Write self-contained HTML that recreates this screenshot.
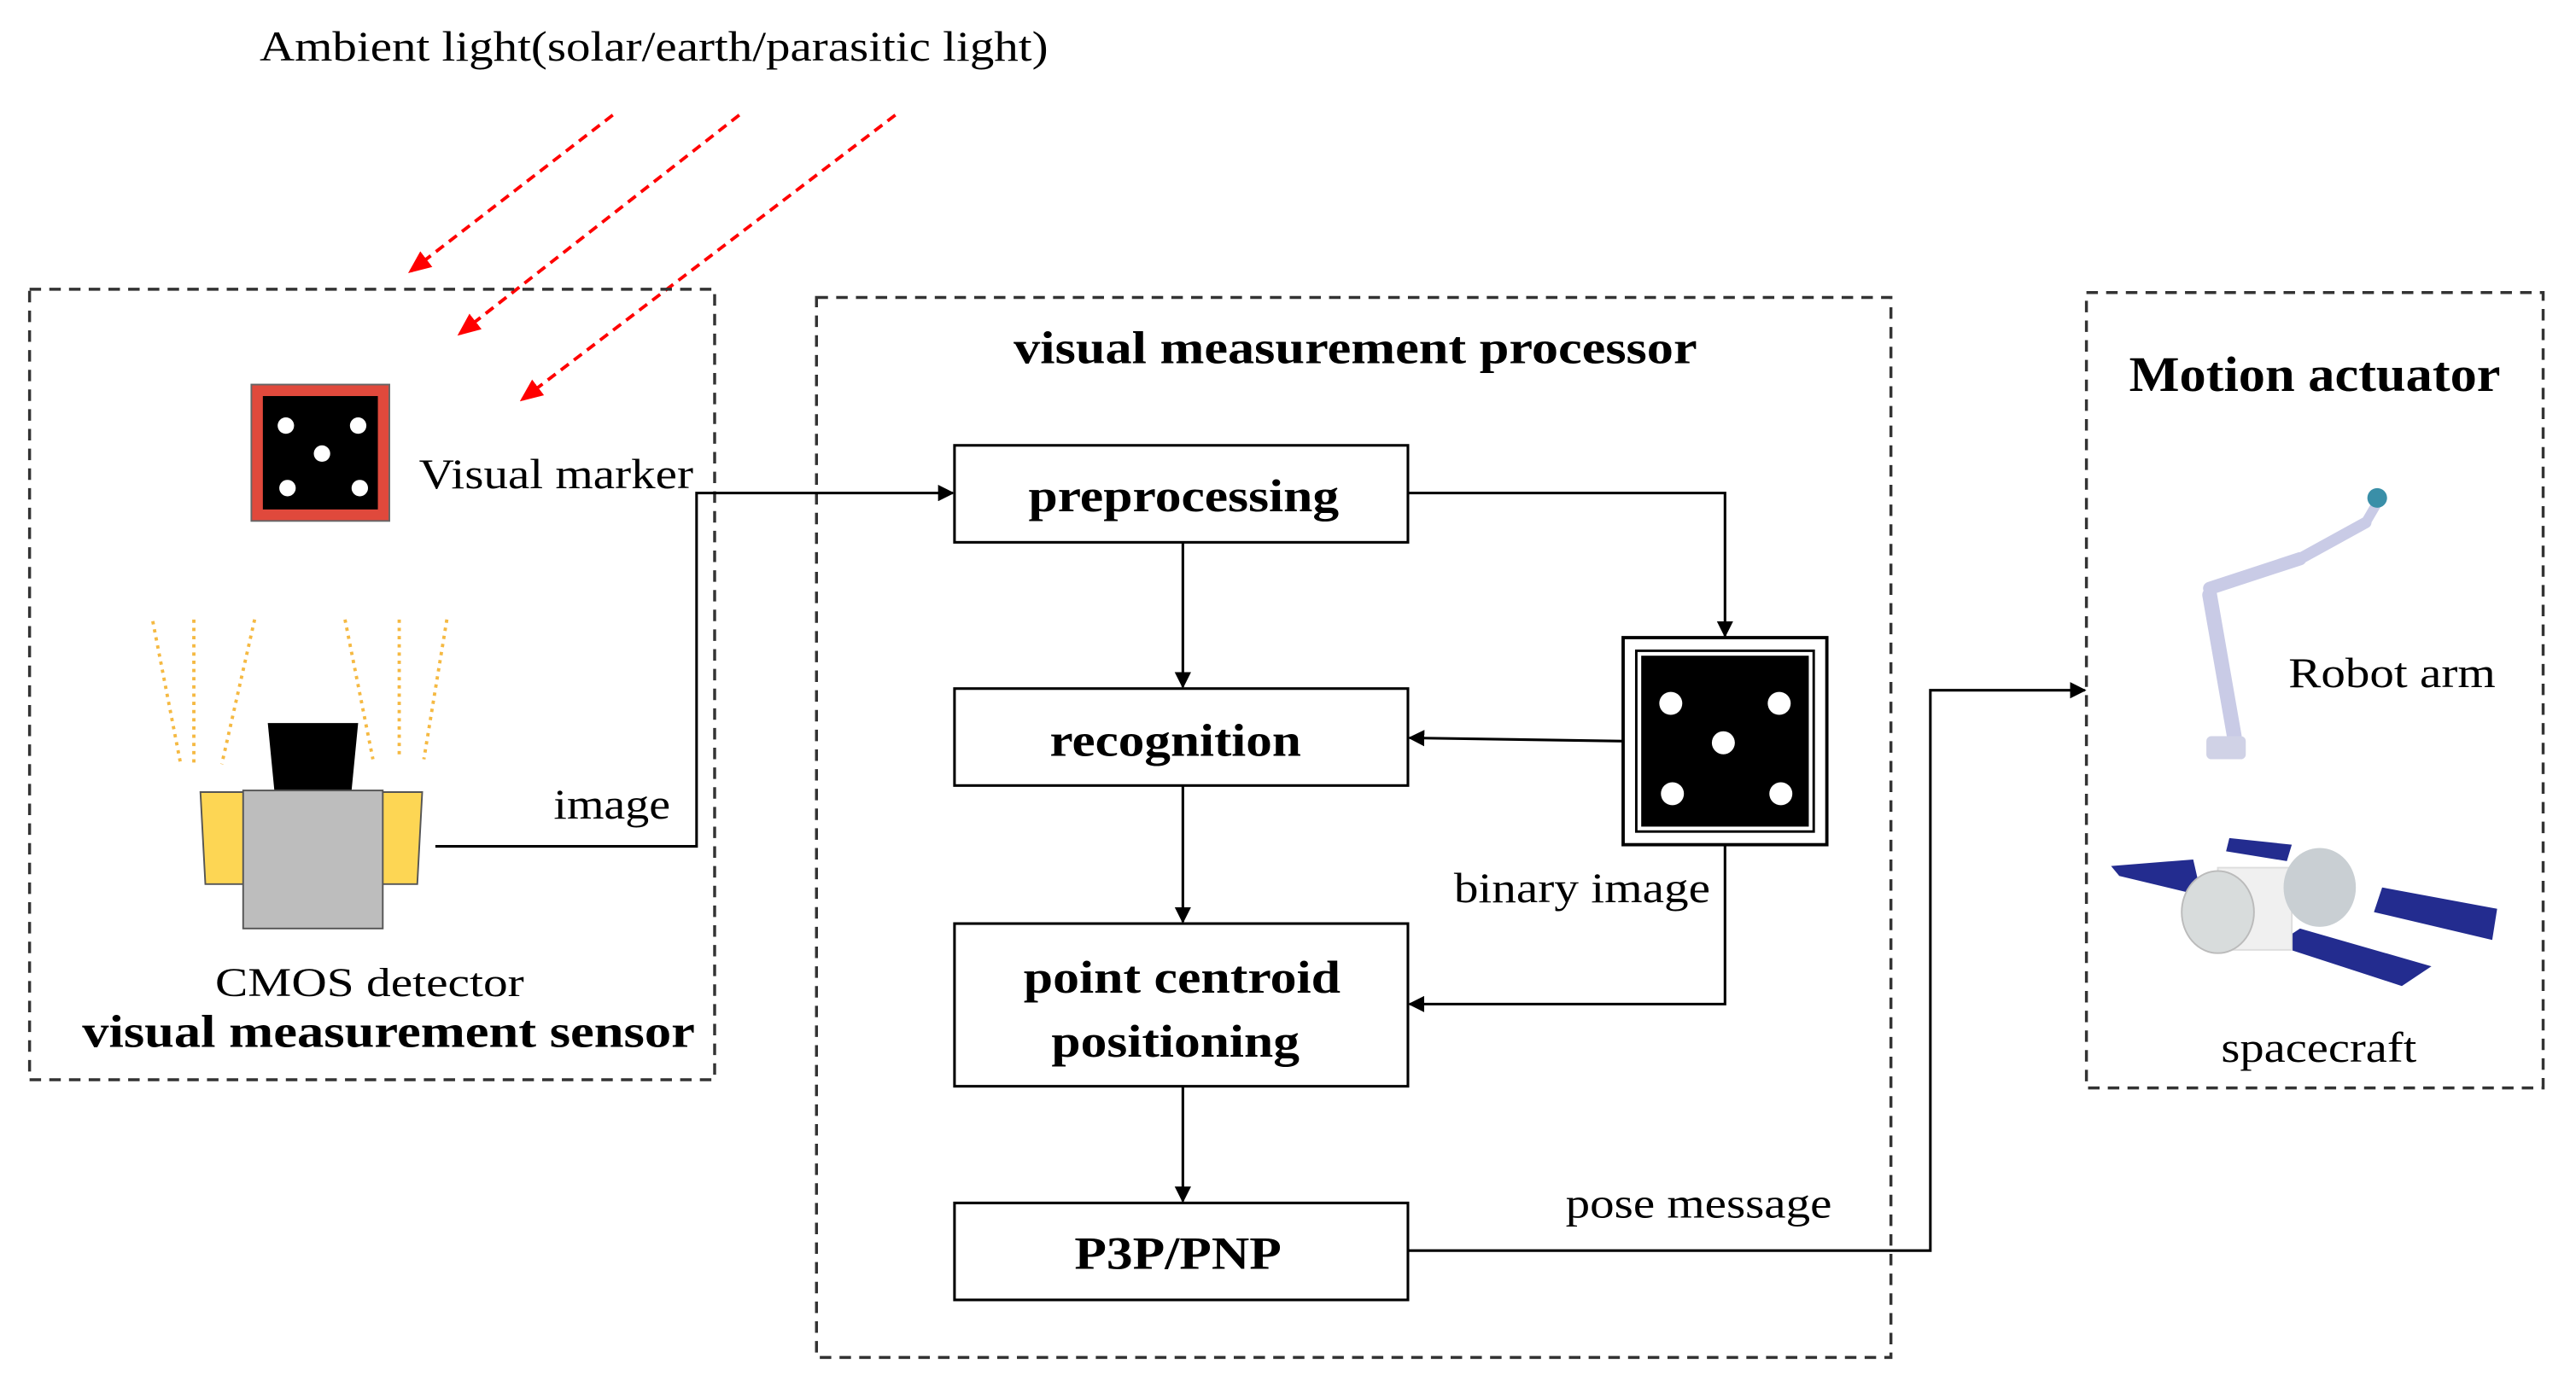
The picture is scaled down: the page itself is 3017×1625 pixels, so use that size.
<!DOCTYPE html>
<html><head><meta charset="utf-8"><style>html,body{margin:0;padding:0;background:#fff}svg{display:block}</style></head><body>
<svg width="3017" height="1625" viewBox="0 0 1568 844" preserveAspectRatio="none" xmlns="http://www.w3.org/2000/svg" font-family="'Liberation Serif', serif">
<defs>
<marker id="ab" markerWidth="10" markerHeight="10" refX="9" refY="5" orient="auto" markerUnits="userSpaceOnUse"><path d="M0,0 L10,5 L0,10 z" fill="#000"/></marker>
<marker id="ar" markerWidth="14" markerHeight="12" refX="12" refY="6" orient="auto" markerUnits="userSpaceOnUse"><path d="M0,0 L14,6 L0,12 z" fill="#f00"/></marker>
</defs>
<text x="158" y="37" font-size="26" textLength="480" lengthAdjust="spacingAndGlyphs">Ambient light(solar/earth/parasitic light)</text>
<g stroke="#f00" stroke-width="2" stroke-dasharray="6,4" marker-end="url(#ar)">
<line x1="373" y1="70" x2="250" y2="165"/><line x1="450" y1="70" x2="280" y2="203"/><line x1="545" y1="70" x2="318" y2="243"/>
</g>
<g fill="none" stroke="#333" stroke-width="1.8" stroke-dasharray="7,5">
<rect x="18" y="176" width="417" height="481"/><rect x="497" y="181" width="654" height="645"/><rect x="1270" y="178" width="278" height="484"/>
</g>
<rect x="153" y="234" width="84" height="83" fill="#e0493c" stroke="#666"/>
<rect x="160" y="241" width="70" height="69" fill="#000"/>
<g fill="#fff"><circle cx="174" cy="259" r="5"/><circle cx="218" cy="259" r="5"/><circle cx="196" cy="276" r="5"/><circle cx="175" cy="297" r="5"/><circle cx="219" cy="297" r="5"/></g>
<text x="255" y="297" font-size="26" textLength="167" lengthAdjust="spacingAndGlyphs">Visual marker</text>
<g stroke="#f5b942" stroke-width="2" stroke-dasharray="2,3" fill="none">
<line x1="93" y1="378" x2="110" y2="465"/><line x1="118" y1="377" x2="118" y2="465"/><line x1="155" y1="377" x2="135" y2="465"/>
<line x1="210" y1="377" x2="227" y2="462"/><line x1="243" y1="377" x2="243" y2="462"/><line x1="272" y1="377" x2="258" y2="462"/>
</g>
<path d="M163,440 L218,440 L214,481 L167,481 z" fill="#000"/>
<path d="M122,482 L150,482 L150,538 L125,538 z" fill="#fdd654" stroke="#555"/>
<path d="M232,482 L257,482 L254,538 L232,538 z" fill="#fdd654" stroke="#555"/>
<rect x="148" y="481" width="85" height="84" fill="#bdbdbd" stroke="#555"/>
<text x="131" y="606" font-size="25" textLength="188" lengthAdjust="spacingAndGlyphs">CMOS detector</text>
<text x="50" y="637" font-size="28" font-weight="bold" textLength="373" lengthAdjust="spacingAndGlyphs">visual measurement sensor</text>
<text x="337" y="498" font-size="26" textLength="71" lengthAdjust="spacingAndGlyphs">image</text>
<g stroke="#000" stroke-width="1.6" fill="none">
<polyline points="265,515 424,515 424,300 580,300" marker-end="url(#ab)"/>
<polyline points="857,300 1050,300 1050,387" marker-end="url(#ab)"/>
<line x1="720" y1="330" x2="720" y2="418" marker-end="url(#ab)"/>
<line x1="720" y1="478" x2="720" y2="561" marker-end="url(#ab)"/>
<line x1="720" y1="661" x2="720" y2="731" marker-end="url(#ab)"/>
<line x1="988" y1="451" x2="858" y2="449" marker-end="url(#ab)"/>
<polyline points="1050,514 1050,611 858,611" marker-end="url(#ab)"/>
<polyline points="857,761 1175,761 1175,420 1269,420" marker-end="url(#ab)"/>
</g>
<text x="617" y="221" font-size="28" font-weight="bold" textLength="416" lengthAdjust="spacingAndGlyphs">visual measurement processor</text>
<g fill="#fff" stroke="#000" stroke-width="1.6">
<rect x="581" y="271" width="276" height="59"/><rect x="581" y="419" width="276" height="59"/><rect x="581" y="562" width="276" height="99"/><rect x="581" y="732" width="276" height="59"/>
</g>
<g font-size="28" font-weight="bold">
<text x="626" y="311" textLength="189" lengthAdjust="spacingAndGlyphs">preprocessing</text>
<text x="639" y="460" textLength="153" lengthAdjust="spacingAndGlyphs">recognition</text>
<text x="623" y="604" textLength="193" lengthAdjust="spacingAndGlyphs">point centroid</text>
<text x="640" y="643" textLength="151" lengthAdjust="spacingAndGlyphs">positioning</text>
<text x="654" y="772" textLength="126" lengthAdjust="spacingAndGlyphs">P3P/PNP</text>
</g>
<rect x="988" y="388" width="124" height="126" fill="#fff" stroke="#000" stroke-width="2"/>
<rect x="996" y="396" width="108" height="110" fill="none" stroke="#000" stroke-width="1.5"/>
<rect x="999" y="399" width="102" height="104" fill="#000"/>
<g fill="#fff"><circle cx="1017" cy="428" r="7"/><circle cx="1083" cy="428" r="7"/><circle cx="1049" cy="452" r="7"/><circle cx="1018" cy="483" r="7"/><circle cx="1084" cy="483" r="7"/></g>
<text x="885" y="549" font-size="26" textLength="156" lengthAdjust="spacingAndGlyphs">binary image</text>
<text x="953" y="741" font-size="26" textLength="162" lengthAdjust="spacingAndGlyphs">pose message</text>
<text x="1296" y="238" font-size="30" font-weight="bold" textLength="226" lengthAdjust="spacingAndGlyphs">Motion actuator</text>
<g stroke="#c9cbe6" stroke-linecap="round" fill="none">
<line x1="1345" y1="362" x2="1360" y2="448" stroke-width="9"/>
<line x1="1345" y1="358" x2="1400" y2="340" stroke-width="8"/>
<line x1="1400" y1="340" x2="1440" y2="318" stroke-width="7"/>
<line x1="1440" y1="318" x2="1447" y2="306" stroke-width="6"/>
</g>
<circle cx="1447" cy="303" r="6" fill="#3a8fa8"/>
<rect x="1343" y="448" width="24" height="14" rx="3" fill="#d0d2e6"/>
<text x="1393" y="418" font-size="26" textLength="126" lengthAdjust="spacingAndGlyphs">Robot arm</text>
<g fill="#232c8f">
<path d="M1285,527 L1335,523 L1340,545 L1290,533 Z"/>
<path d="M1357,510 L1395,514 L1392,524 L1355,518 Z"/>
<path d="M1450,540 L1520,553 L1517,572 L1445,555 Z"/>
<path d="M1400,565 L1480,588 L1462,600 L1385,575 Z"/>
</g>
<rect x="1350" y="528" width="45" height="50" fill="#f0f0f0" stroke="#ddd"/>
<ellipse cx="1350" cy="555" rx="22" ry="25" fill="#d8dcdc" stroke="#bbb"/>
<ellipse cx="1412" cy="540" rx="22" ry="24" fill="#c9cfd3"/>
<text x="1352" y="646" font-size="26" textLength="119" lengthAdjust="spacingAndGlyphs">spacecraft</text>
</svg>
</body></html>
